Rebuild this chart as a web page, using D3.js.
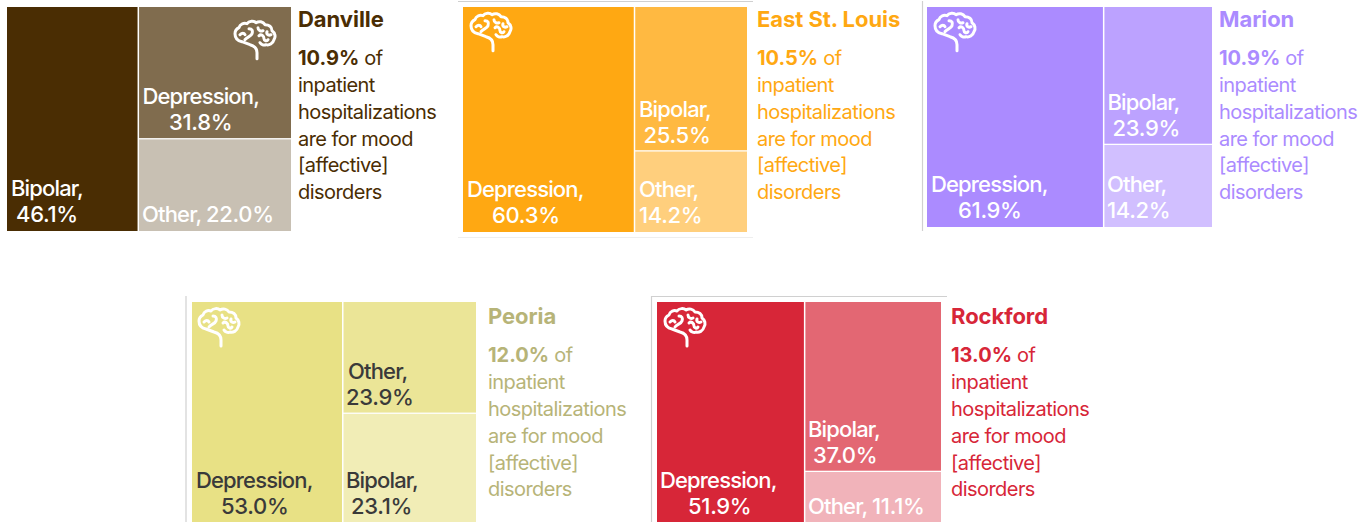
<!DOCTYPE html>
<html><head><meta charset="utf-8">
<script src="https://cdn.jsdelivr.net/npm/d3@7"></script>
<style>html,body{margin:0;padding:0;background:#fff;overflow:hidden}text{font-family:Inter,sans-serif}</style>
</head><body><svg id="c" width="1372" height="522"></svg>
<script>
const cities=["Danville","East St. Louis","Marion","Peoria","Rockford"];
const moodShare=[10.9,10.5,10.9,12.0,13.0];
const largest=["Bipolar","Depression","Depression","Depression","Depression"];
const largestValue=[46.1,60.3,61.9,53.0,51.9];
const secondName=["Depression","Bipolar","Bipolar","Other","Bipolar"];
const secondValue=[31.8,25.5,23.9,23.9,37.0];
const thirdName=["Other","Other","Other","Bipolar","Other"];
const thirdValue=[22.0,14.2,14.2,23.1,11.1];
const descLines=["of","inpatient","hospitalizations","are for mood","[affective]","disorders"];
const baseColors=["#4a2d03","#ffa812","#ab8bff","#e8e185","#d72638"];
const textColors=["#4a2d03","#ffa812","#ab8bff","#b7b478","#d72638"];
const labelColors=["#fff","#fff","#fff","#3a3a3a","#fff"];
const boxes=[[7,7,284,224],[463,7,284,225],[927,7,285,220],[192,302,284,220],[657,302,284,221]];
const textX=[298,757,1219,488,951];
const textTop=[7,7,7,304.4,304.4];
const brains=[[234,20.7],[470,12.7],[934,12.7],[198,308],[664,308]];
const svg=d3.select("#c");
const brainPaths=[
"M23 38 V32 C23 27 20 25 16 24 L8 21 C3 20 1 17 1 13 C1 10 3 8 5 7 C6 3 10 2 13 3 C15 0 20 0 22 2 C25 0 29 1 31 4 C35 4 38 6 38 10 C41 12 42 16 40 19 C39 23 35 25 32 24 C30 25 27 24 26 22",
"M6 14 C8 12 10 12 11 14 M15 8 C18 8 19 10 18 13 C17 16 13 16 11 19 M24 7 C24 10 27 11 29 10 M33 11 C32 14 35 15 37 14 M25 15 C27 13 30 15 30 18 C30 20 33 21 34 19"];
function brain(x,y){
 const g=svg.append("g").attr("transform",`translate(${x},${y})`).attr("fill","none").attr("stroke","#fff").attr("stroke-width",3).attr("stroke-linecap","round").attr("stroke-linejoin","round");
 brainPaths.forEach(p=>g.append("path").attr("d",p));
}
function lab(x,y,color){return svg.append("text").attr("x",x).attr("y",y).attr("font-size",22).attr("font-weight",500).attr("fill",color);}
[[458,1.5,753,1.5,"#d0d0d0"],[458,237.5,753,237.5,"#eeeeee"],[922.5,1,922.5,231,"#d0d0d0"],[186,296,186,522,"#d0d0d0"],[651,296.5,947,296.5,"#d0d0d0"],[651.5,296,651.5,522,"#d0d0d0"]].forEach(l=>
 svg.append("line").attr("x1",l[0]).attr("y1",l[1]).attr("x2",l[2]).attr("y2",l[3]).attr("stroke",l[4]).attr("stroke-width",1.2));
const opacRow=[[1,.7,.3],[1,.8,.55],[1,.8,.55],[1,.85,.6],[1,.7,.35]];
cities.forEach((c,i)=>{
 const [bx,by,bw,bh]=boxes[i];
 const root=d3.hierarchy({children:[{name:largest[i],value:largestValue[i]},{children:[{name:secondName[i],value:secondValue[i]},{name:thirdName[i],value:thirdValue[i]}]}]}).sum(d=>d.value||0);
 d3.treemap().tile(d3.treemapSliceDice).size([bw,bh]).round(false)(root);
 root.leaves().forEach((n,k)=>{
  const x0=bx+n.x0+(k>0?1:0), x1=bx+n.x1-(k==0?.5:0);
  svg.append("rect").attr("x",x0).attr("y",by+n.y0).attr("width",x1-x0).attr("height",n.y1-n.y0-(k==1?1.3:0))
   .attr("fill",baseColors[i]).attr("fill-opacity",opacRow[i][k]);
 });
 const tx=textX[i],ty=textTop[i];
 svg.append("text").attr("x",tx).attr("y",ty+20).attr("font-size",22).attr("font-weight",700).attr("letter-spacing",-0.05).attr("fill",textColors[i]).text(c);
 const t=svg.append("text").attr("x",tx).attr("y",ty+58).attr("font-size",20).attr("fill",textColors[i]);
 t.append("tspan").attr("font-weight",700).text(moodShare[i].toFixed(1)+"%");
 t.append("tspan").attr("letter-spacing",-0.55).text(" "+descLines[0]);
 descLines.slice(1).forEach((d,j)=>svg.append("text").attr("x",tx).attr("y",ty+85+j*26.75).attr("font-size",20).attr("letter-spacing",-0.55).attr("fill",textColors[i]).text(d));
});
const L=(i,name,v,x,y,dx,oneLine)=>{
 const s=v.toFixed(1)+"%";
 if(oneLine){
  const t=lab(x,y,labelColors[i]);
  t.append("tspan").attr("letter-spacing",-0.85).text(name+", ");
  t.append("tspan").attr("letter-spacing",-0.3).text(s);
 }else{
  lab(x,y-26,labelColors[i]).attr("letter-spacing",-0.85).text(name+",");
  lab(x+dx,y,labelColors[i]).attr("letter-spacing",-0.3).text(s);
 }
};
L(0,"Bipolar",46.1,11,222,5);L(0,"Depression",31.8,142.5,130,26.5);L(0,"Other",22.0,142,222,0,true);
L(1,"Depression",60.3,467,223,25);L(1,"Bipolar",25.5,639,143,4.5);L(1,"Other",14.2,639,223,0);
L(2,"Depression",61.9,931,218,27);L(2,"Bipolar",23.9,1107.5,135.5,5);L(2,"Other",14.2,1107,218,0);
L(3,"Depression",53.0,196,514,25);L(3,"Other",23.9,348,405,-2);L(3,"Bipolar",23.1,346,514,5);
L(4,"Depression",51.9,660,514,28);L(4,"Bipolar",37.0,808,463,5);L(4,"Other",11.1,808,514,0,true);
brains.forEach(b=>brain(b[0],b[1]));
</script></body></html>
